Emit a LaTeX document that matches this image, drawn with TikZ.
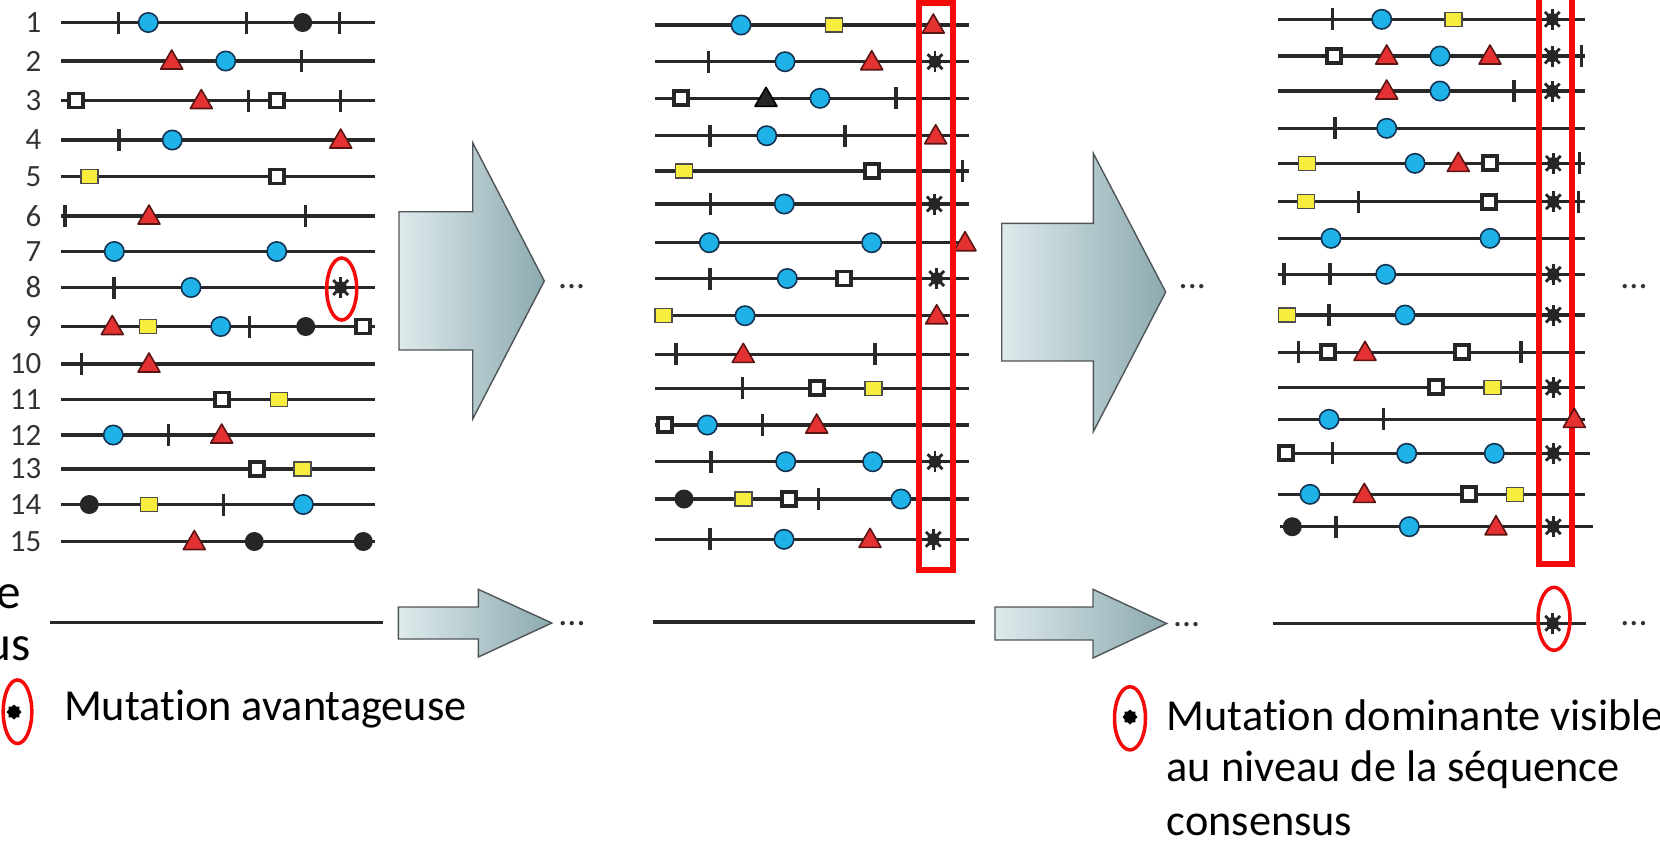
\documentclass[tikz,border=0pt]{standalone}
\usepackage{fontspec}
\setmainfont{Carlito}[Ligatures=NoCommon]
\definecolor{lineC}{RGB}{40,40,40}
\definecolor{cyanC}{RGB}{30,178,232}
\definecolor{navyC}{RGB}{20,50,80}
\definecolor{redC}{RGB}{228,50,50}
\definecolor{dredC}{RGB}{90,20,20}
\definecolor{yelC}{RGB}{248,236,60}
\definecolor{boxC}{RGB}{245,10,10}
\definecolor{arrL}{RGB}{222,234,236}
\definecolor{arrR}{RGB}{140,170,176}
\definecolor{arrD}{RGB}{80,85,88}
\newcommand\seqrow[4]{\draw[seq] (#2,#1) -- (#3,#1);
  \foreach \mtype/\mx in {#4}{\edef\mtmp{\noexpand\pic at (\mx,#1) {\mtype};}\mtmp}}
\tikzset{
  seq/.style={line width=0.95pt, draw=lineC},
  tk/.pic={\draw[line width=0.9pt, lineC] (0,-11) -- (0,11);},
  bc/.pic={\draw[fill=cyanC, draw=navyC, line width=0.45pt] (0,0) circle (9.7);},
  rt/.pic={\draw[fill=redC, draw=dredC, line width=0.45pt, line join=round] (-11,8) -- (11,8) -- (0,-11) -- cycle;},
  kt/.pic={\draw[fill=black!85, draw=black, line width=0.45pt, line join=round] (-11,8) -- (11,8) -- (0,-11) -- cycle;},
  os/.pic={\draw[fill=white, draw=black!85, line width=1.05pt] (-7,-7) rectangle (7,7);},
  ys/.pic={\draw[fill=yelC, draw=black!70, line width=0.4pt] (-8.5,-7) rectangle (8.5,7);},
  kc/.pic={\fill[black!85] (0,0) circle (9.5);},
  st/.pic={\fill[black!85] (0,0) circle (6.2);
     \foreach \a in {0,45,...,315}{\draw[line width=0.8pt, black!85] (\a:5) -- (\a:10.5);}},
  ldot/.pic={\fill[black] (0:7.5)--(22.5:5.8)--(45:7.5)--(67.5:5.8)--(90:7.5)--(112.5:5.8)--(135:7.5)--(157.5:5.8)--(180:7.5)--(202.5:5.8)--(225:7.5)--(247.5:5.8)--(270:7.5)--(292.5:5.8)--(315:7.5)--(337.5:5.8)--cycle;},
  redbox/.style={draw=boxC, line width=1.7pt},
  redel/.style={draw=boxC, line width=1pt},
  bigarrow/.style={draw=arrD, line width=0.4pt, left color=arrL, right color=arrR},
  numlab/.style={font=\fontsize{8.8}{10}\selectfont, inner sep=0pt, anchor=east, text=black!80},
  dots/.style={font=\fontsize{10.2}{12}\selectfont, inner sep=0pt, anchor=base, text=black!80},
  legend/.style={font=\fontsize{12.6}{14}\selectfont, inner sep=0pt, anchor=base west, text=black},
  cut/.style={font=\fontsize{14}{16}\selectfont, inner sep=0pt, anchor=base east, text=black},
}
\begin{document}
\begin{tikzpicture}[x=0.01cm, y=-0.01cm]
\useasboundingbox (0,0) rectangle (1660,841);
\fill[white] (0,0) rectangle (1660,841);

% ---------- left panel ----------
\foreach \k/\yy in {1/22.5,2/61,3/100.5,4/140,5/176.5,6/216,7/251.5,8/287.5,9/326.5,10/364,11/399.5,12/435,13/469,14/504.5,15/541.5}
  {\node[numlab] (n\k) at (42,\yy) {\k};}
\seqrow{22.5}{61}{375}{tk/118.3, bc/148.3, tk/246.7, kc/302.7, tk/339.3}
\seqrow{61}{61}{375}{rt/171.7, bc/225.7, tk/301.7}
\seqrow{100.5}{61}{375}{os/76, rt/201.3, tk/248.3, os/276.7, tk/340.7}
\seqrow{140}{61}{375}{tk/119, bc/172.3, rt/340.7}
\seqrow{176.5}{61}{375}{ys/89.3, os/276.7}
\seqrow{216}{61}{375}{tk/65, rt/149, tk/305.7}
\seqrow{251.5}{61}{375}{bc/114.3, bc/276.7}
\seqrow{287.5}{61}{375}{tk/114, bc/191, st/340.7}
\seqrow{326.5}{61}{375}{rt/112.3, ys/148, bc/220.7, tk/249.3, kc/305.7, os/363.3}
\seqrow{364}{61}{375}{tk/81.7, rt/149}
\seqrow{399.5}{61}{375}{os/221.7, ys/279}
\seqrow{435}{61}{375}{bc/113.3, tk/168.3, rt/221.7}
\seqrow{469}{61}{375}{os/256.7, ys/302.3}
\seqrow{504.5}{61}{375}{kc/89.3, ys/149, tk/223.3, bc/303.3}
\seqrow{541.5}{61}{375}{rt/194.3, kc/254.3, kc/363.3}
\draw[redel] (341.7,289) ellipse [x radius=15, y radius=31];

% ---------- middle panel ----------
\seqrow{25}{655}{969}{bc/741, ys/834, rt/933.3}
\seqrow{61.7}{655}{969}{tk/708.3, bc/785, rt/871.7, st/935}
\seqrow{98.3}{655}{969}{os/680.7, kt/766, bc/820, tk/896}
\seqrow{135.7}{655}{969}{tk/710, bc/766.7, tk/845, rt/935.7}
\seqrow{171}{655}{969}{ys/684, os/871.7, tk/962.7}
\seqrow{204}{655}{969}{tk/710.7, bc/784.3, st/934.3}
\seqrow{242.7}{655}{969}{bc/709.3, bc/871.7, rt/965}
\seqrow{278.5}{655}{969}{tk/710, bc/787.3, os/844.3, st/936.7}
\seqrow{315.7}{655}{969}{ys/663.3, bc/745, rt/936.7}
\seqrow{354.3}{655}{969}{tk/676, rt/743.3, tk/875}
\seqrow{388.3}{655}{969}{tk/742.3, os/816.7, ys/873.3}
\seqrow{425}{655}{969}{os/665, bc/707.3, tk/762.7, rt/816.7}
\seqrow{461.7}{655}{969}{tk/711, bc/785.7, bc/872.7, st/935}
\seqrow{499}{655}{969}{kc/684, ys/743.3, os/789.3, tk/818.3, bc/901}
\seqrow{539.3}{655}{969}{tk/710, bc/784, rt/870, st/933.3}
\draw[redbox] (919,3) rectangle (953,569.7);

% ---------- right panel ----------
\seqrow{19.3}{1278}{1585}{tk/1332.7, bc/1381.7, ys/1453.3, st/1552.3}
\seqrow{56}{1278}{1585}{os/1334, rt/1386.7, bc/1440, rt/1490, st/1552.3, tk/1581.7}
\seqrow{91}{1278}{1585}{rt/1386.7, bc/1440, tk/1514, st/1552.3}
\seqrow{128.3}{1278}{1585}{tk/1335, bc/1386.7}
\seqrow{163.3}{1278}{1585}{ys/1306.7, bc/1415, rt/1458.3, os/1490, st/1553.3, tk/1579.3}
\seqrow{201.7}{1278}{1585}{ys/1305.7, tk/1358.3, os/1489.3, st/1553.3, tk/1578.3}
\seqrow{238.3}{1278}{1585}{bc/1331, bc/1490}
\seqrow{274.3}{1278}{1585}{tk/1284, tk/1330, bc/1385.7, st/1553.3}
\seqrow{315}{1280}{1585}{ys/1286.7, tk/1329, bc/1405, st/1553.3}
\seqrow{352.3}{1278}{1585}{tk/1298.3, os/1327.7, rt/1365, os/1461.7, tk/1521}
\seqrow{387.3}{1278}{1585}{os/1436, ys/1492.3, st/1553.3}
\seqrow{419.3}{1278}{1585}{bc/1329, tk/1383.3}
\seqrow{453.3}{1278}{1590}{os/1286, tk/1332.7, bc/1406.7, bc/1494.3, st/1553.3}
\seqrow{494.3}{1278}{1585}{bc/1310, rt/1364.3, os/1469.3, ys/1515}
\seqrow{526.7}{1280}{1593}{kc/1292.3, tk/1336, bc/1409.3, rt/1496, st/1553.3}
\draw[redbox] (1539,-10) -- (1539,563.7) -- (1572,563.7) -- (1572,-10);
\pic at (1574.3,419.3) {rt};

% ---------- big arrows and dots ----------
\draw[bigarrow] (399,211.7) -- (472.7,211.7) -- (472.7,142.7) -- (544.3,281) -- (472.7,419) -- (472.7,350) -- (399,350) -- cycle;
\draw[bigarrow] (1001.7,223.3) -- (1093.3,223.3) -- (1093.3,153.3) -- (1165.7,292) -- (1093.3,431.7) -- (1093.3,361) -- (1001.7,361) -- cycle;
\node[dots] (d1) at (571.7,288) {...};
\node[dots] (d2) at (1192.3,288) {...};
\node[dots] (d3) at (1634,288) {...};

% ---------- consensus row ----------
\node[cut] (ce) at (21.7,608) {ce};
\node[cut] (us) at (31.7,660) {us};
\draw[seq] (50,622.7) -- (383.3,622.7);
\draw[bigarrow] (398.3,607) -- (478.3,607) -- (478.3,589.3) -- (551.8,623) -- (478.3,657) -- (478.3,639) -- (398.3,639) -- cycle;
\node[dots] (d4) at (572,625) {...};
\draw[seq] (653,622) -- (975,622);
\draw[bigarrow] (995,607) -- (1093,607) -- (1093,589.3) -- (1166.7,623.5) -- (1093,658) -- (1093,640) -- (995,640) -- cycle;
\node[dots] (d5) at (1186.7,626) {...};
\draw[seq] (1273.3,623.3) -- (1586,623.3);
\pic at (1552.7,623.3) {st};
\draw[redel] (1554,618.8) ellipse [x radius=16, y radius=31.5];
\node[dots] (d6) at (1634,625) {...};

% ---------- legends ----------
\draw[redel] (17.5,711.7) ellipse [x radius=14.3, y radius=31.8];
\pic at (14,712) {ldot};
\node[legend] (leg1) at (63.3,720) {Mutation avantageuse};
\draw[redel] (1130,718.3) ellipse [x radius=15.5, y radius=31.6];
\pic at (1130,717) {ldot};
\node[legend] (leg2a) at (1166,730) {Mutation dominante visible};
\node[legend] (leg2b) at (1166,781.7) {au niveau de la séquence};
\node[legend] (leg2c) at (1166,835) {consensus};
\end{tikzpicture}
\end{document}
